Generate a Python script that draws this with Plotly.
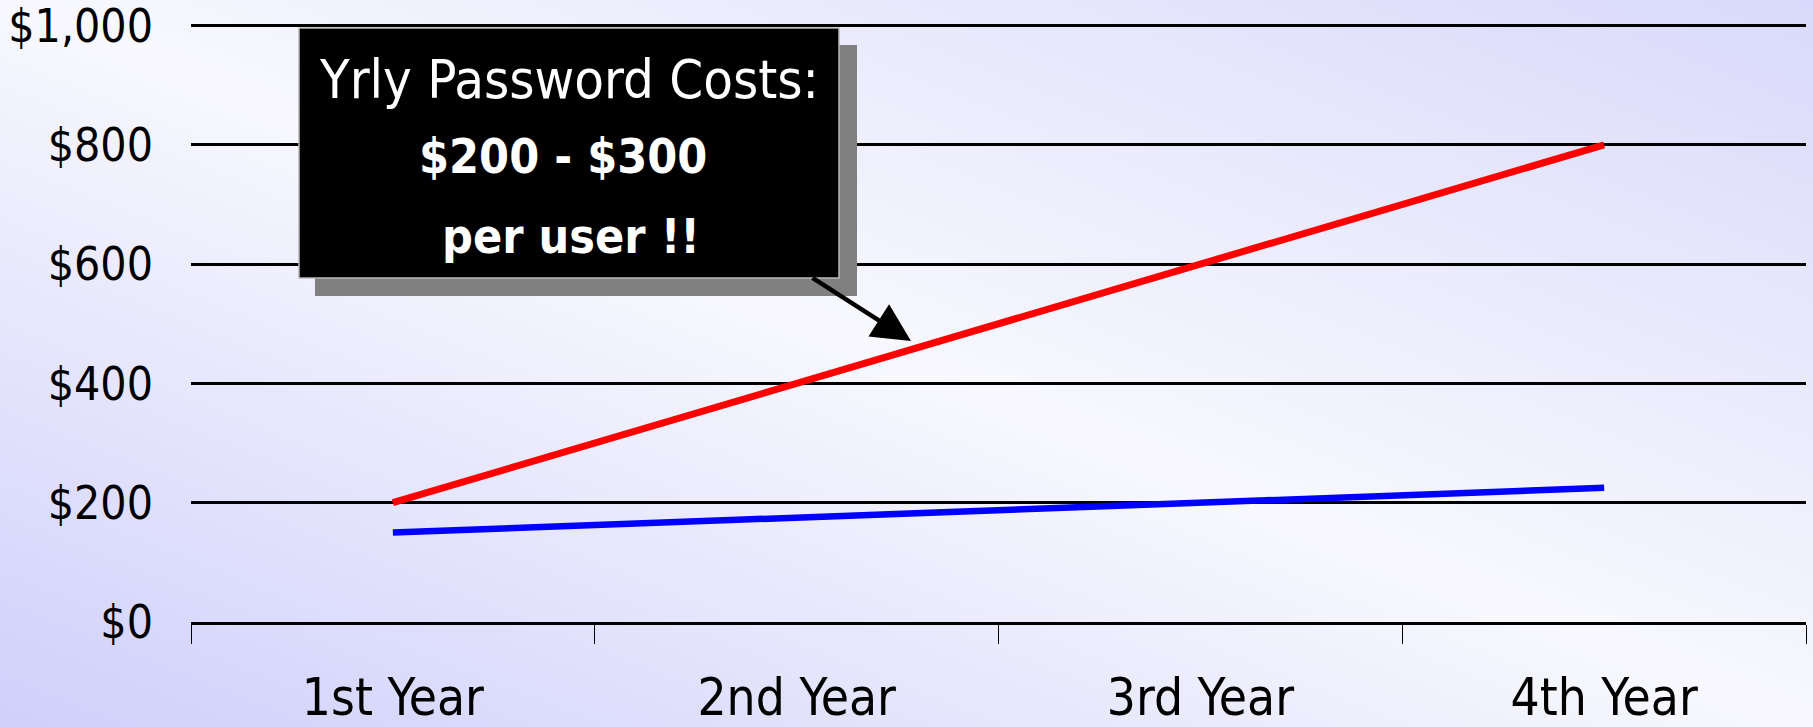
import plotly.graph_objects as go

# ---- data ----
categories = ["1st Year", "2nd Year", "3rd Year", "4th Year"]
red_values = [200, 400, 600, 800]
blue_values = [150, 175, 200, 225]
y_tickvals = [0, 200, 400, 600, 800, 1000]
y_ticktext = ["$0", "$200", "$400", "$600", "$800", "$1,000"]
callout_lines = ["Yrly Password Costs:", "$200 - $300", "per user !!"]

# ---- layout geometry (pixels) ----
W, H = 1813, 727
L, R, T, B = 191, 7, 20, 105
PW, PH = W - L - R, H - T - B
UNIT = (H - B - 25.5) / 1000.0          # pixels per dollar
Y_TOP = PH / UNIT                        # axis top so that $1,000 sits at ~25px


def px(x):
    return (x - L) / PW


def py(y):
    return (H - B - y) / PH


COND = "DejaVu Sans Condensed, Arial Narrow, sans-serif"

bg_svg = (
    "data:image/svg+xml;utf8,"
    "<svg xmlns='http://www.w3.org/2000/svg' width='1813' height='727' preserveAspectRatio='none'>"
    "<defs><linearGradient id='g' x1='0' y1='1' x2='1' y2='0'>"
    "<stop offset='0' stop-color='%23cfcffb'/>"
    "<stop offset='0.5' stop-color='%23f8f8fe'/>"
    "<stop offset='1' stop-color='%23d9d9fb'/>"
    "</linearGradient></defs>"
    "<rect width='1813' height='727' fill='url(%23g)'/></svg>"
)

fig = go.Figure()
fig.add_trace(go.Scatter(x=categories, y=blue_values, mode="lines",
                         line=dict(color="#0000ff", width=6.5), showlegend=False))
fig.add_trace(go.Scatter(x=categories, y=red_values, mode="lines",
                         line=dict(color="#ff0000", width=7), showlegend=False))

shapes = [
    dict(type="rect", xref="paper", yref="paper",
         x0=px(315), x1=px(857), y0=py(45), y1=py(296),
         fillcolor="#808080", line=dict(width=0), layer="above"),
    dict(type="rect", xref="paper", yref="paper",
         x0=px(299), x1=px(839), y0=py(28), y1=py(278),
         fillcolor="#000000", line=dict(color="#b8b8b8", width=1.5), layer="above"),
]

annotations = [
    dict(xref="paper", yref="paper", x=px(569), y=py(79),
         xanchor="center", yanchor="middle", showarrow=False,
         text=callout_lines[0],
         font=dict(family=COND, size=54, color="white")),
    dict(xref="paper", yref="paper", x=px(563), y=py(156),
         xanchor="center", yanchor="middle", showarrow=False,
         text="<b>" + callout_lines[1] + "</b>",
         font=dict(family=COND, size=48, color="white")),
    dict(xref="paper", yref="paper", x=px(571), y=py(236),
         xanchor="center", yanchor="middle", showarrow=False,
         text="<b>" + callout_lines[2] + "</b>",
         font=dict(family=COND, size=48, color="white")),
    dict(xref="paper", yref="paper", x=px(911), y=py(341),
         ax=-100, ay=-64, text="", showarrow=True,
         arrowhead=2, arrowsize=1.7, arrowwidth=4.5, arrowcolor="black"),
]

fig.update_layout(
    width=W, height=H,
    margin=dict(l=L, r=R, t=T, b=B, pad=0, autoexpand=False),
    paper_bgcolor="#eeeefc",
    plot_bgcolor="rgba(0,0,0,0)",
    showlegend=False,
    shapes=shapes,
    annotations=annotations,
    images=[dict(source=bg_svg, xref="paper", yref="paper",
                 x=-L / PW, y=1 + T / PH, sizex=W / PW, sizey=H / PH,
                 xanchor="left", yanchor="top", sizing="stretch", layer="below")],
    xaxis=dict(
        type="category", range=[-0.5, 3.5], tickson="boundaries",
        ticks="outside", ticklen=19, tickwidth=1.2, tickcolor="black",
        showline=True, linecolor="black", linewidth=3,
        showgrid=False, zeroline=False, automargin=False,
        tickfont=dict(family=COND, size=51, color="black"),
        ticklabelstandoff=29, ticklabeloverflow="allow",
    ),
    yaxis=dict(
        range=[0, Y_TOP], tickvals=y_tickvals, ticktext=y_ticktext,
        showgrid=True, gridcolor="black", gridwidth=2.5,
        zeroline=False, showline=False, ticks="", automargin=False,
        tickfont=dict(family=COND, size=46, color="black"),
        ticklabelstandoff=37, ticklabeloverflow="allow",
    ),
)

fig.write_html("out.html", config={"displayModeBar": False},
               post_script="document.body.style.margin='0';document.body.style.overflow='hidden';")
